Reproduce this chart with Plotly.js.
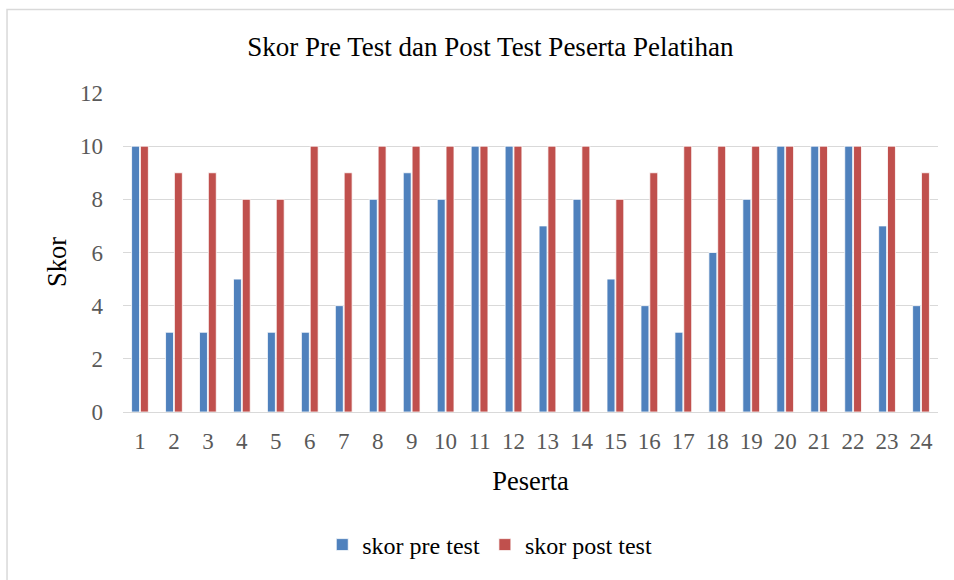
<!DOCTYPE html>
<html>
<head>
<meta charset="utf-8">
<script src="https://cdn.plot.ly/plotly-3.0.1.min.js"></script>
<style>html,body{margin:0;padding:0;background:#fff;}#chart{width:954px;height:580px;}</style>
</head>
<body>
<div id="chart"></div>
<script>
const peserta = ["1","2","3","4","5","6","7","8","9","10","11","12","13","14","15","16","17","18","19","20","21","22","23","24"];
const skorPreTest = [10,3,3,5,3,3,4,8,9,8,10,10,7,8,5,4,3,6,8,10,10,10,7,4];
const skorPostTest = [10,9,9,8,8,10,9,10,10,10,10,10,10,10,8,9,10,10,10,10,10,10,10,9];
const yTicks = [0,2,4,6,8,10,12];

const serif = "Liberation Serif, Times New Roman, serif";
const data = [
  {type:"bar", name:"skor pre test", x:peserta, y:skorPreTest,
   marker:{color:"#4F81BD", line:{color:"#ffffff", width:0.8}}},
  {type:"bar", name:"skor post test", x:peserta, y:skorPostTest,
   marker:{color:"#C0504D", line:{color:"#ffffff", width:0.8}}}
];
const layout = {
  width:954, height:580,
  margin:{l:123, r:16, t:93, b:166},
  paper_bgcolor:"#ffffff", plot_bgcolor:"#ffffff",
  font:{family:serif, color:"#595959"},
  barmode:"group", bargap:0.48, bargroupgap:0.1,
  showlegend:true,
  title:{text:"Skor Pre Test dan Post Test Peserta Pelatihan", font:{family:serif, size:27, color:"#000000"},
         x:0.514, xanchor:"center", xref:"container", y:0.919, yanchor:"middle", yref:"container"},
  xaxis:{type:"category", tickfont:{size:23, color:"#595959"}, showgrid:false,
         showline:true, linecolor:"#d9d9d9", linewidth:1.3, ticks:"", ticklabelstandoff:8,
         title:{text:"Peserta", font:{size:26.5, color:"#000000"}, standoff:18}},
  yaxis:{range:[0,12], tickvals:yTicks, ticktext:yTicks.map(String), tickfont:{size:23, color:"#595959"},
         showgrid:true, gridcolor:"#d9d9d9", gridwidth:1.3, zeroline:false, showline:false, ticks:"",
         ticklabelstandoff:19},
  annotations:[{text:"Skor", textangle:-90, xref:"paper", yref:"paper",
                x:(57-123)/815, y:1-(263-93)/321, xanchor:"center", yanchor:"middle", showarrow:false,
                font:{family:serif, size:26.5, color:"#000000"}}],
  legend:{orientation:"h", x:0.45, xanchor:"center", y:-0.417, yanchor:"middle",
          font:{size:24, color:"#000000"}, itemwidth:30, traceorder:"normal"},
  shapes:[{type:"rect", xref:"paper", yref:"paper", x0:-0.1423, x1:1.05, y0:-0.6, y1:1.2617,
           line:{color:"#d9d9d9", width:1.5}, fillcolor:"rgba(0,0,0,0)", layer:"below"}]
};
Plotly.newPlot("chart", data, layout, {displayModeBar:false, staticPlot:true});
</script>
</body>
</html>
